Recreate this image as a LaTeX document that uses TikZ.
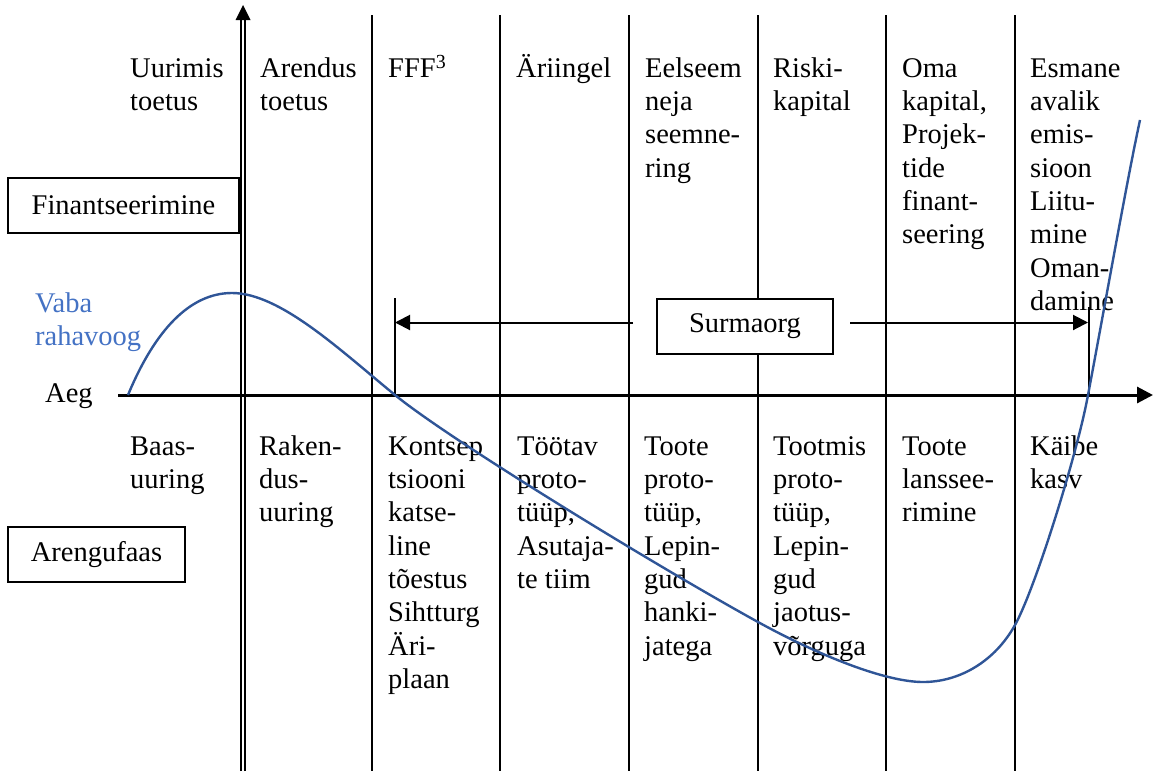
\documentclass[tikz,border=0pt]{standalone}
\usepackage{fontspec}
\setmainfont{Liberation Serif}
\usetikzlibrary{arrows.meta}
\definecolor{curveblue}{HTML}{2F5597}
\definecolor{textblue}{HTML}{4472C4}
\newcommand\tp{\rule{0pt}{26pt}}
\newcommand\fs{\fontsize{28.5}{33.3}\selectfont}
\begin{document}
\begin{tikzpicture}[x=1pt,y=-1pt,
  vline/.style={line width=2pt},
  lbl/.style={anchor=north west, inner sep=0pt, align=left, font=\fs},
  labelbox/.style={draw, fill=white, line width=1.3pt, inner sep=0pt, font=\fs},
  arr/.style={line width=2pt, -{Triangle[length=15pt,width=15pt]}},
  axisarr/.style={line width=3pt, -{Triangle[length=16pt,width=16pt]}}]
\useasboundingbox (0,0) rectangle (1155,771);
% vertical separators
\foreach \x in {372,500,629,758,886,1015} \draw[vline] (\x,15) -- (\x,771);
% vertical axis (double line)
\draw[line width=1.8pt] (241,771) -- (241,18);
\draw[line width=1.8pt] (245,771) -- (245,18);
\fill (235.5,20) -- (243,5) -- (250.5,20) -- cycle;
% horizontal axis
\coordinate (hx0) at (118,395);
\coordinate (hx1) at (1153,395);
\draw[axisarr] (hx0) -- (hx1);
% top labels (financing)
\node[lbl] (t1) at (130,51) {\tp Uurimis\\toetus};
\node[lbl] (t2) at (260,51) {\tp Arendus\\toetus};
\node[lbl] (t3) at (388,51) {\tp FFF\textsuperscript{3}};
\node[lbl] (t4) at (516,51) {\tp Äriingel};
\node[lbl] (t5) at (645,51) {\tp Eelseem\\neja\\seemne-\\ring};
\node[lbl] (t6) at (773,51) {\tp Riski-\\kapital};
\node[lbl] (t7) at (902,51) {\tp Oma\\kapital,\\Projek-\\tide\\finant-\\seering};
\node[lbl] (t8) at (1030,51) {\tp Esmane\\avalik\\emis-\\sioon\\Liitu-\\mine\\Oman-\\damine};
% bottom labels (development phase)
\node[lbl] (b1) at (130,429) {\tp Baas-\\uuring};
\node[lbl] (b2) at (259,429) {\tp Raken-\\dus-\\uuring};
\node[lbl] (b3) at (388,429) {\tp Kontsep\\tsiooni\\katse-\\line\\tõestus\\Sihtturg\\Äri-\\plaan};
\node[lbl] (b4) at (517,429) {\tp Töötav\\proto-\\tüüp,\\Asutaja-\\te tiim};
\node[lbl] (b5) at (644,429) {\tp Toote\\proto-\\tüüp,\\Lepin-\\gud\\hanki-\\jatega};
\node[lbl] (b6) at (773,429) {\tp Tootmis\\proto-\\tüüp,\\Lepin-\\gud\\jaotus-\\võrguga};
\node[lbl] (b7) at (902,429) {\tp Toote\\lanssee-\\rimine};
\node[lbl] (b8) at (1030,429) {\tp Käibe\\kasv};
% side boxes
\node[labelbox, minimum width=231pt, minimum height=55pt] (fin) at (123.5,205.5) {Finantseerimine};
\node[labelbox, minimum width=177pt, minimum height=55pt] (aren) at (96.5,554.5) {Arengufaas};
\node[lbl, text=textblue] (vaba) at (35,286) {\tp Vaba\\rahavoog};
\node[anchor=base west, inner sep=0pt, font=\fs] (aeg) at (45,402) {Aeg};
% Surmaorg
\coordinate (tlt) at (395,298);
\coordinate (tlb) at (395,395);
\coordinate (trt) at (1089,307);
\coordinate (trb) at (1089,395);
\coordinate (tl) at (395,322.5);
\coordinate (tr) at (1088,322.5);
\coordinate (al) at (633,322.5);
\coordinate (ar) at (850,322.5);
\draw[vline] (tlt) -- (tlb);
\draw[vline] (trt) -- (trb);
\draw[arr] (al) -- (tl);
\draw[arr] (ar) -- (tr);
\node[labelbox, minimum width=176pt, minimum height=55pt] (sm) at (745,326.5) {Surmaorg};
% free cash flow curve
\draw[curveblue, line width=2.4pt]
  (128,395) .. controls (155,330) and (190,293) .. (232,293)
            .. controls (280,293) and (340,350) .. (395,395)
            .. controls (450,440) and (658,567) .. (758,622)
            .. controls (818,655) and (885,682) .. (923,682)
            .. controls (960,682) and (995,661) .. (1015,625)
            .. controls (1035,589) and (1077,455) .. (1088,395)
            .. controls (1105,305) and (1127,180) .. (1140,120);
\end{tikzpicture}
\end{document}
